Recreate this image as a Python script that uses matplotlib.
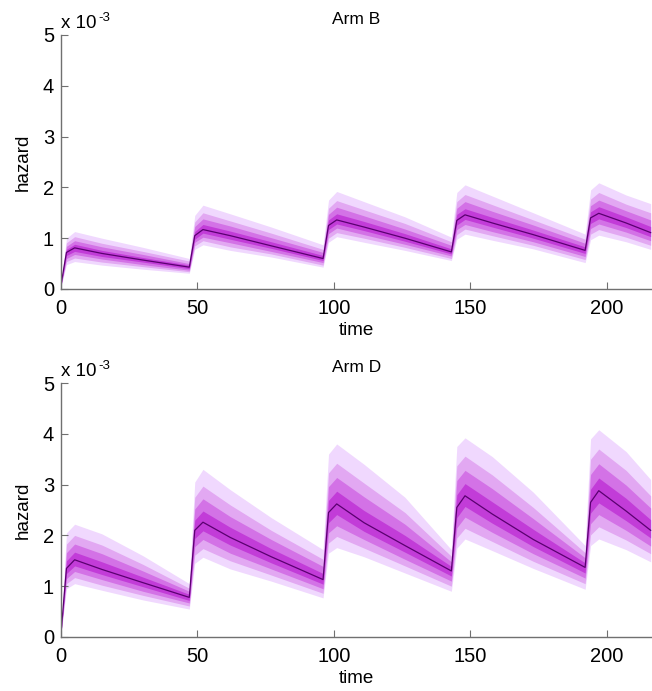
import matplotlib
matplotlib.use("Agg")
import matplotlib.pyplot as plt

plt.rcParams['font.family'] = ['Liberation Sans', 'DejaVu Sans']

# time points (shared)
time = [0, 2, 5, 15, 30, 47, 49, 52, 62, 77, 96, 98, 101, 111, 126,
        143, 145, 148, 158, 173, 192, 194, 197, 207, 216]

# ---- Arm B (hazard, x 1e-3) ----
B_median = [0.08, 0.72, 0.81, 0.70, 0.57, 0.43, 1.05, 1.17, 1.05, 0.85, 0.60, 1.25, 1.36, 1.22, 1.00,
            0.73, 1.35, 1.46, 1.30, 1.07, 0.76, 1.40, 1.49, 1.30, 1.11]
B_hi4 = [0.12, 1.00, 1.13, 1.00, 0.82, 0.60, 1.45, 1.65, 1.48, 1.22, 0.87, 1.75, 1.92, 1.72, 1.42,
         1.02, 1.90, 2.05, 1.83, 1.50, 1.08, 1.95, 2.09, 1.85, 1.68]
B_hi3 = [0.11, 0.91, 1.03, 0.90, 0.74, 0.55, 1.32, 1.50, 1.34, 1.10, 0.78, 1.59, 1.74, 1.56, 1.29,
         0.93, 1.72, 1.86, 1.66, 1.36, 0.98, 1.77, 1.90, 1.67, 1.50]
B_hi2 = [0.10, 0.84, 0.95, 0.83, 0.68, 0.50, 1.23, 1.38, 1.24, 1.01, 0.72, 1.47, 1.61, 1.44, 1.18,
         0.86, 1.59, 1.72, 1.53, 1.26, 0.90, 1.64, 1.75, 1.54, 1.36]
B_hi1 = [0.09, 0.78, 0.88, 0.76, 0.62, 0.47, 1.13, 1.27, 1.14, 0.93, 0.66, 1.36, 1.48, 1.33, 1.09,
         0.79, 1.47, 1.58, 1.41, 1.16, 0.83, 1.52, 1.62, 1.42, 1.23]
B_lo1 = [0.07, 0.66, 0.74, 0.64, 0.53, 0.40, 0.98, 1.10, 0.98, 0.80, 0.56, 1.17, 1.28, 1.15, 0.94,
         0.69, 1.26, 1.37, 1.22, 1.00, 0.70, 1.29, 1.38, 1.21, 1.03]
B_lo2 = [0.07, 0.60, 0.68, 0.59, 0.48, 0.37, 0.92, 1.02, 0.91, 0.74, 0.52, 1.09, 1.20, 1.07, 0.88,
         0.65, 1.17, 1.27, 1.13, 0.93, 0.64, 1.19, 1.28, 1.12, 0.95]
B_lo3 = [0.06, 0.54, 0.61, 0.53, 0.44, 0.34, 0.85, 0.95, 0.83, 0.69, 0.47, 1.00, 1.11, 1.00, 0.82,
         0.60, 1.07, 1.18, 1.05, 0.86, 0.58, 1.08, 1.17, 1.02, 0.86]
B_lo4 = [0.05, 0.48, 0.54, 0.47, 0.39, 0.31, 0.78, 0.87, 0.76, 0.63, 0.43, 0.92, 1.03, 0.92, 0.76,
         0.56, 0.98, 1.08, 0.96, 0.79, 0.52, 0.97, 1.06, 0.93, 0.78]

# ---- Arm D (hazard, x 1e-3) ----
D_median = [0.08, 1.35, 1.52, 1.33, 1.07, 0.78, 2.10, 2.26, 1.96, 1.58, 1.13, 2.45, 2.62, 2.25, 1.80,
            1.30, 2.55, 2.78, 2.42, 1.92, 1.37, 2.65, 2.88, 2.48, 2.10]
D_hi4 = [0.12, 2.05, 2.22, 2.03, 1.60, 1.05, 3.05, 3.30, 2.90, 2.35, 1.72, 3.60, 3.80, 3.40, 2.75,
         1.72, 3.75, 3.92, 3.55, 2.85, 1.80, 3.90, 4.08, 3.65, 3.10]
D_hi3 = [0.11, 1.83, 2.00, 1.81, 1.43, 0.96, 2.75, 2.97, 2.60, 2.10, 1.53, 3.23, 3.42, 3.03, 2.45,
         1.59, 3.37, 3.56, 3.19, 2.55, 1.66, 3.50, 3.70, 3.28, 2.78]
D_hi2 = [0.10, 1.66, 1.83, 1.64, 1.30, 0.90, 2.52, 2.72, 2.37, 1.92, 1.39, 2.96, 3.14, 2.76, 2.22,
         1.48, 3.08, 3.28, 2.92, 2.33, 1.56, 3.20, 3.41, 2.99, 2.54]
D_hi1 = [0.09, 1.50, 1.67, 1.48, 1.18, 0.84, 2.30, 2.48, 2.16, 1.74, 1.25, 2.69, 2.87, 2.49, 2.00,
         1.39, 2.80, 3.02, 2.66, 2.12, 1.46, 2.91, 3.13, 2.73, 2.31]
D_lo1 = [0.07, 1.25, 1.40, 1.23, 0.99, 0.72, 1.94, 2.09, 1.81, 1.46, 1.04, 2.25, 2.41, 2.08, 1.67,
         1.20, 2.35, 2.57, 2.24, 1.78, 1.26, 2.44, 2.64, 2.29, 1.95]
D_lo2 = [0.07, 1.15, 1.29, 1.13, 0.90, 0.67, 1.78, 1.92, 1.65, 1.34, 0.95, 2.05, 2.19, 1.92, 1.53,
         1.10, 2.15, 2.36, 2.06, 1.64, 1.16, 2.23, 2.41, 2.10, 1.79]
D_lo3 = [0.06, 1.05, 1.17, 1.02, 0.82, 0.61, 1.61, 1.74, 1.50, 1.22, 0.86, 1.85, 1.98, 1.75, 1.40,
         1.00, 1.95, 2.14, 1.88, 1.49, 1.05, 2.01, 2.17, 1.91, 1.64]
D_lo4 = [0.05, 0.95, 1.05, 0.92, 0.73, 0.55, 1.45, 1.57, 1.34, 1.10, 0.77, 1.65, 1.76, 1.58, 1.26,
         0.90, 1.75, 1.93, 1.70, 1.35, 0.94, 1.80, 1.93, 1.72, 1.48]

arms = ["Arm B", "Arm D"]
xticks = [0, 50, 100, 150, 200]
yticks = [0, 1, 2, 3, 4, 5]

band_colors = ['#f0d8fe', '#e2a8f2', '#d372e6', '#c23cd8']
line_color = '#5a0070'
spine_color = '#707070'

W, H = 652, 691
fig = plt.figure(figsize=(W / 100, H / 100), dpi=100)

panels = [
    (arms[0], B_median, [(B_lo4, B_hi4), (B_lo3, B_hi3), (B_lo2, B_hi2), (B_lo1, B_hi1)], 289, 35),
    (arms[1], D_median, [(D_lo4, D_hi4), (D_lo3, D_hi3), (D_lo2, D_hi2), (D_lo1, D_hi1)], 637, 383),
]

left_px = 61
for title, med, bands, y0px, y5px in panels:
    ax = fig.add_axes([left_px / W, 1 - y0px / H, 1 - left_px / W, (y0px - y5px) / H])
    for (lo, hi), c in zip(bands, band_colors):
        ax.fill_between(time, lo, hi, color=c, linewidth=0)
    ax.plot(time, med, color=line_color, linewidth=0.9)
    ax.set_xlim(0, 216.5)
    ax.set_ylim(0, 5)
    ax.set_xticks(xticks)
    ax.set_yticks(yticks)
    ax.spines['top'].set_visible(False)
    ax.spines['right'].set_visible(False)
    for s in ('left', 'bottom'):
        ax.spines[s].set_color(spine_color)
        ax.spines[s].set_linewidth(1.0)
    ax.tick_params(direction='in', length=5, width=0.8, colors=spine_color,
                   labelcolor='black', labelsize=14.5)
    ax.tick_params(axis='x', pad=7)
    ax.tick_params(axis='y', pad=5)
    ax.set_title(title, fontsize=12.5, pad=8)
    ax.set_xlabel('time', fontsize=13.5, labelpad=3)
    ax.set_ylabel('hazard', fontsize=13.5, labelpad=8)
    ax.text(0.0, 1.012, 'x 10', transform=ax.transAxes, ha='left', va='bottom',
            fontsize=13.5)
    ax.text(0.063, 1.045, '-3', transform=ax.transAxes, ha='left', va='bottom',
            fontsize=9.5)

fig.savefig('out.png', dpi=100)
